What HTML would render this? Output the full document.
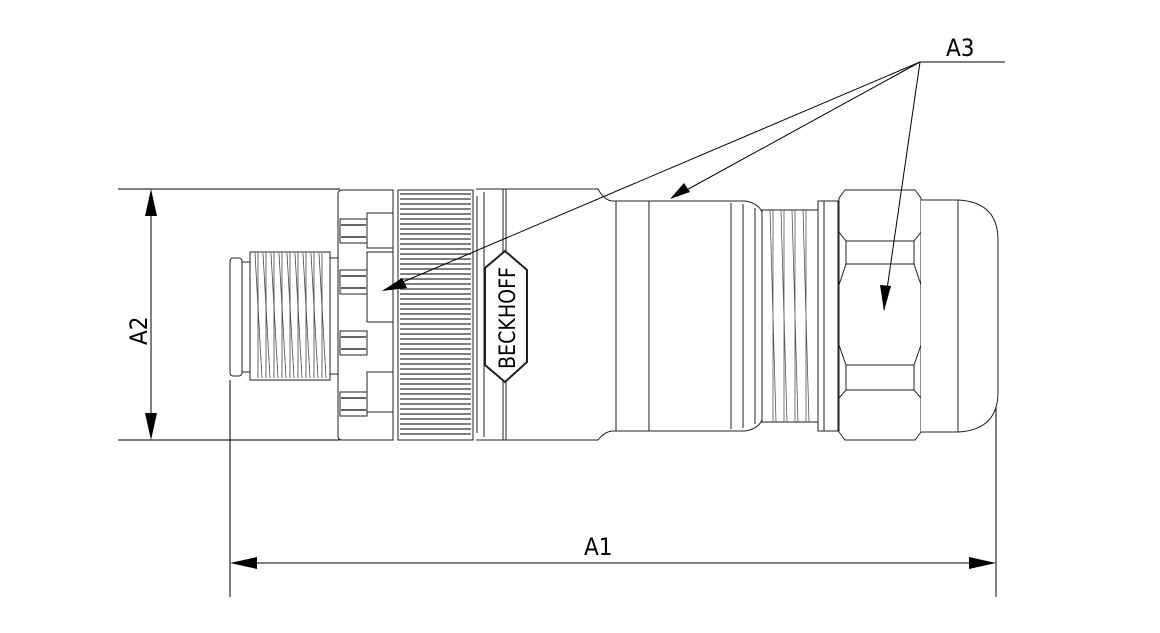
<!DOCTYPE html>
<html><head><style>
html,body{margin:0;padding:0;background:#fff;}
svg{display:block;}
text{font-family:"Liberation Sans Narrow","DejaVu Sans Condensed","Liberation Sans",sans-serif;fill:#000;}
</style></head><body>
<svg width="1160" height="633" viewBox="0 0 1160 633" xmlns="http://www.w3.org/2000/svg">
<g stroke="#000" stroke-width="1" fill="none">
<line x1="118" y1="189" x2="340" y2="189"/>
<line x1="118" y1="440" x2="340" y2="440"/>
<line x1="151" y1="192" x2="151" y2="437"/>
<line x1="230" y1="380" x2="230" y2="597"/>
<line x1="996" y1="400" x2="996" y2="597"/>
<line x1="233" y1="563" x2="993" y2="563"/>
<line x1="920" y1="62" x2="1005" y2="62"/>
</g>
<g fill="#000">
<polygon points="151,189 145,216 157,216"/>
<polygon points="151,440 145,413 157,413"/>
<polygon points="230,563 257,557 257,569"/>
<polygon points="996,563 969,557 969,569"/>
</g>
<text x="584" y="555" font-size="24">A1</text>
<text x="946" y="56" font-size="24">A3</text>
<text x="0" y="0" font-size="24" transform="translate(147,345) rotate(-90)">A2</text>

<g stroke="#222" stroke-width="1" fill="#fff">
<rect x="230" y="258" width="12" height="118" rx="3"/>
<rect x="242" y="262" width="8" height="110"/>
<rect x="250" y="252" width="80" height="128"/>
<rect x="330" y="258" width="10" height="116"/>
</g>
<g stroke="#444" stroke-width="0.8" fill="none">
<path d="M255,253 L262,378 M263,253 L270,378 M271,253 L278,378 M279,253 L286,378 M287,253 L294,378 M295,253 L302,378 M303,253 L310,378 M311,253 L318,378 M319,253 L326,378"/>
<path d="M258,253 L258,378 M266,253 L266,378 M274,253 L274,378 M282,253 L282,378 M290,253 L290,378 M298,253 L298,378 M306,253 L306,378 M314,253 L314,378 M322,253 L322,378"/>
</g>
<g stroke="#222" stroke-width="1" fill="#fff">
<path d="M342,190 L393,190 L393,440 L342,440 Q338,440 338,436 L338,194 Q338,190 342,190Z"/>
<rect x="367" y="213" width="26" height="35"/>
<rect x="367" y="252" width="26" height="70"/>
<rect x="367" y="372" width="26" height="40"/>
<rect x="340" y="219" width="27" height="24"/>
<rect x="340" y="270" width="27" height="24"/>
<rect x="340" y="331" width="27" height="24"/>
<rect x="340" y="392" width="27" height="24"/>
</g>
<g stroke="#333" stroke-width="1.5">
<line x1="341" y1="225" x2="366" y2="225"/><line x1="341" y1="237" x2="366" y2="237"/>
<line x1="341" y1="276" x2="366" y2="276"/><line x1="341" y1="288" x2="366" y2="288"/>
<line x1="341" y1="337" x2="366" y2="337"/><line x1="341" y1="349" x2="366" y2="349"/>
<line x1="341" y1="398" x2="366" y2="398"/><line x1="341" y1="410" x2="366" y2="410"/>
</g>
<rect x="398" y="190" width="75" height="250" fill="#fff" stroke="#222"/>
<g stroke="#333" stroke-width="1.2">
<line x1="400" y1="194" x2="471" y2="194"/><line x1="400" y1="199" x2="471" y2="199"/><line x1="400" y1="204" x2="471" y2="204"/><line x1="400" y1="209" x2="471" y2="209"/><line x1="400" y1="214" x2="471" y2="214"/><line x1="400" y1="219" x2="471" y2="219"/><line x1="400" y1="224" x2="471" y2="224"/><line x1="400" y1="229" x2="471" y2="229"/><line x1="400" y1="234" x2="471" y2="234"/><line x1="400" y1="239" x2="471" y2="239"/><line x1="400" y1="244" x2="471" y2="244"/><line x1="400" y1="249" x2="471" y2="249"/><line x1="400" y1="254" x2="471" y2="254"/><line x1="400" y1="259" x2="471" y2="259"/><line x1="400" y1="264" x2="471" y2="264"/><line x1="400" y1="269" x2="471" y2="269"/><line x1="400" y1="274" x2="471" y2="274"/><line x1="400" y1="279" x2="471" y2="279"/><line x1="400" y1="284" x2="471" y2="284"/><line x1="400" y1="289" x2="471" y2="289"/><line x1="400" y1="294" x2="471" y2="294"/><line x1="400" y1="299" x2="471" y2="299"/><line x1="400" y1="304" x2="471" y2="304"/><line x1="400" y1="309" x2="471" y2="309"/><line x1="400" y1="314" x2="471" y2="314"/><line x1="400" y1="319" x2="471" y2="319"/><line x1="400" y1="324" x2="471" y2="324"/><line x1="400" y1="329" x2="471" y2="329"/><line x1="400" y1="334" x2="471" y2="334"/><line x1="400" y1="339" x2="471" y2="339"/><line x1="400" y1="344" x2="471" y2="344"/><line x1="400" y1="349" x2="471" y2="349"/><line x1="400" y1="354" x2="471" y2="354"/><line x1="400" y1="359" x2="471" y2="359"/><line x1="400" y1="364" x2="471" y2="364"/><line x1="400" y1="369" x2="471" y2="369"/><line x1="400" y1="374" x2="471" y2="374"/><line x1="400" y1="379" x2="471" y2="379"/><line x1="400" y1="384" x2="471" y2="384"/><line x1="400" y1="389" x2="471" y2="389"/><line x1="400" y1="394" x2="471" y2="394"/><line x1="400" y1="399" x2="471" y2="399"/><line x1="400" y1="404" x2="471" y2="404"/><line x1="400" y1="409" x2="471" y2="409"/><line x1="400" y1="414" x2="471" y2="414"/><line x1="400" y1="419" x2="471" y2="419"/><line x1="400" y1="424" x2="471" y2="424"/><line x1="400" y1="429" x2="471" y2="429"/><line x1="400" y1="434" x2="471" y2="434"/>
</g>
<g stroke="#222" stroke-width="1" fill="none">
<path d="M476,189 L598,189 Q604,200 612,201 L745,201 Q758,203 762,212 L762,420 Q758,429 745,431 L612,431 Q604,432 598,440 L476,440"/>
<line x1="477" y1="196" x2="477" y2="433"/>
<line x1="484" y1="192" x2="484" y2="437"/>
<line x1="503" y1="189" x2="503" y2="440"/>
<line x1="506" y1="189" x2="506" y2="440"/>
<line x1="616" y1="201" x2="616" y2="431"/>
<line x1="649" y1="201" x2="649" y2="431"/>
<line x1="731" y1="203" x2="731" y2="429"/>
<line x1="743" y1="204" x2="743" y2="428"/>
<line x1="755" y1="208" x2="755" y2="424"/>
</g>
<polygon points="505,251 527,270 527,362 505,382 485,365 485,268" fill="#fff" stroke="#222" stroke-width="2"/>
<text x="0" y="0" font-size="22" transform="translate(515,369) rotate(-90)" textLength="102" lengthAdjust="spacingAndGlyphs">BECKHOFF</text>
<rect x="762" y="210" width="56" height="212" fill="#fff" stroke="#222"/>
<g stroke="#555" stroke-width="0.8">
<path d="M770,210 L776,422 M781,210 L787,422 M792,210 L798,422 M803,210 L809,422 M773,210 L773,422 M784,210 L784,422 M795,210 L795,422 M806,210 L806,422"/>
</g>
<rect x="818" y="201" width="6" height="230" fill="#fff" stroke="#222"/>
<rect x="824" y="201" width="14" height="230" fill="#fff" stroke="#222"/>
<g stroke="#222" stroke-width="1" fill="#fff">
<path d="M845,190 L915,190 L921,198 L921,432 L915,440 L845,440 L839,432 L839,198Z"/>
<path d="M839,232 L846,241 L914,241 L921,232"/>
<path d="M839,398 L846,390 L914,390 L921,398"/>
<path d="M846,264 L914,264 L921,285 L921,345 L914,365 L846,365 L839,345 L839,285Z"/>
<line x1="846" y1="241" x2="846" y2="264"/><line x1="914" y1="241" x2="914" y2="264"/>
<line x1="846" y1="365" x2="846" y2="390"/><line x1="914" y1="365" x2="914" y2="390"/>
<path d="M921,200 L958,200 Q998,202 998,240 L998,392 Q998,430 958,432 L921,432"/>
<line x1="958" y1="200" x2="958" y2="432"/>
</g>
<!-- A3 leaders on top -->
<g stroke="#000" stroke-width="1" fill="none">
<line x1="920" y1="62" x2="384" y2="290"/>
<line x1="920" y1="62" x2="672" y2="198"/>
<line x1="920" y1="62" x2="884" y2="310"/>
</g>
<g fill="#000">
<polygon points="382,291 402,278 407,288"/>
<polygon points="670,199 684,183 690,192"/>
<polygon points="884,311 880,285 891,286"/>
</g>
</svg>
</body></html>
